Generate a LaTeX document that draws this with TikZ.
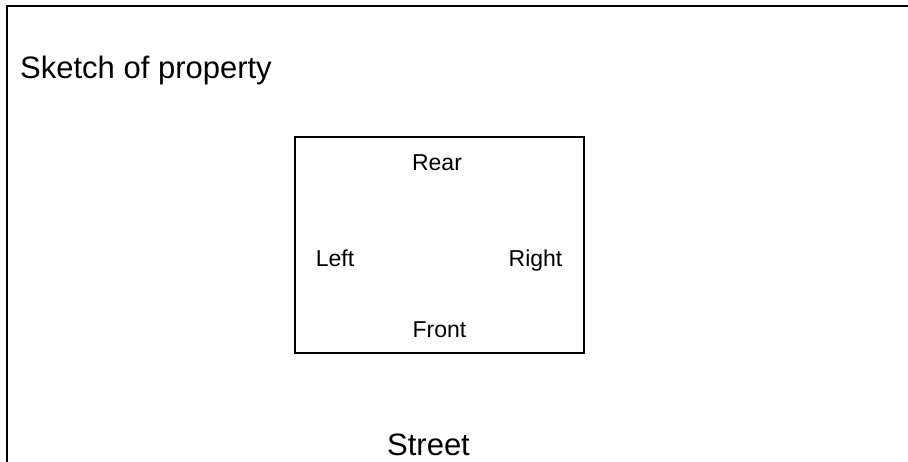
\documentclass[tikz,border=0pt]{standalone}
\usepackage{fontspec}
\setmainfont{Liberation Sans}
\usetikzlibrary{positioning}

\begin{document}
\begin{tikzpicture}[x=1pt, y=-1pt,
          frame/.style={draw=black, line width=1.8pt},
          lot/.style={rectangle, draw=black, line width=1.6pt, minimum width=289pt,
                      minimum height=216pt, inner sep=0pt},
          side/.style={anchor=base, inner sep=0pt, font=\fontsize{23}{27}\selectfont},
          heading/.style={inner sep=0pt, font=\fontsize{31}{36}\selectfont}
        ]
        \clip (0,0) rectangle (908,461);
        \fill[white] (0,0) rectangle (908,461);
        % sheet border, cut at right and bottom
        \draw[frame] (7,480) -- (7,6) -- (930,6);

        \node[heading, anchor=base west] (title) at (20,78) {Sketch of property};

        \node[lot] (lot) at (439.5,245) {};
        \node[side] (rear)  at (437,170)   {Rear};
        \node[side] (left)  at (335,266)   {Left};
        \node[side] (right) at (535.5,266) {Right};
        \node[side] (front) at (439.5,337) {Front};

        \node[heading, anchor=base] (street) at (428.5,455) {Street};
      \end{tikzpicture}
\end{document}
